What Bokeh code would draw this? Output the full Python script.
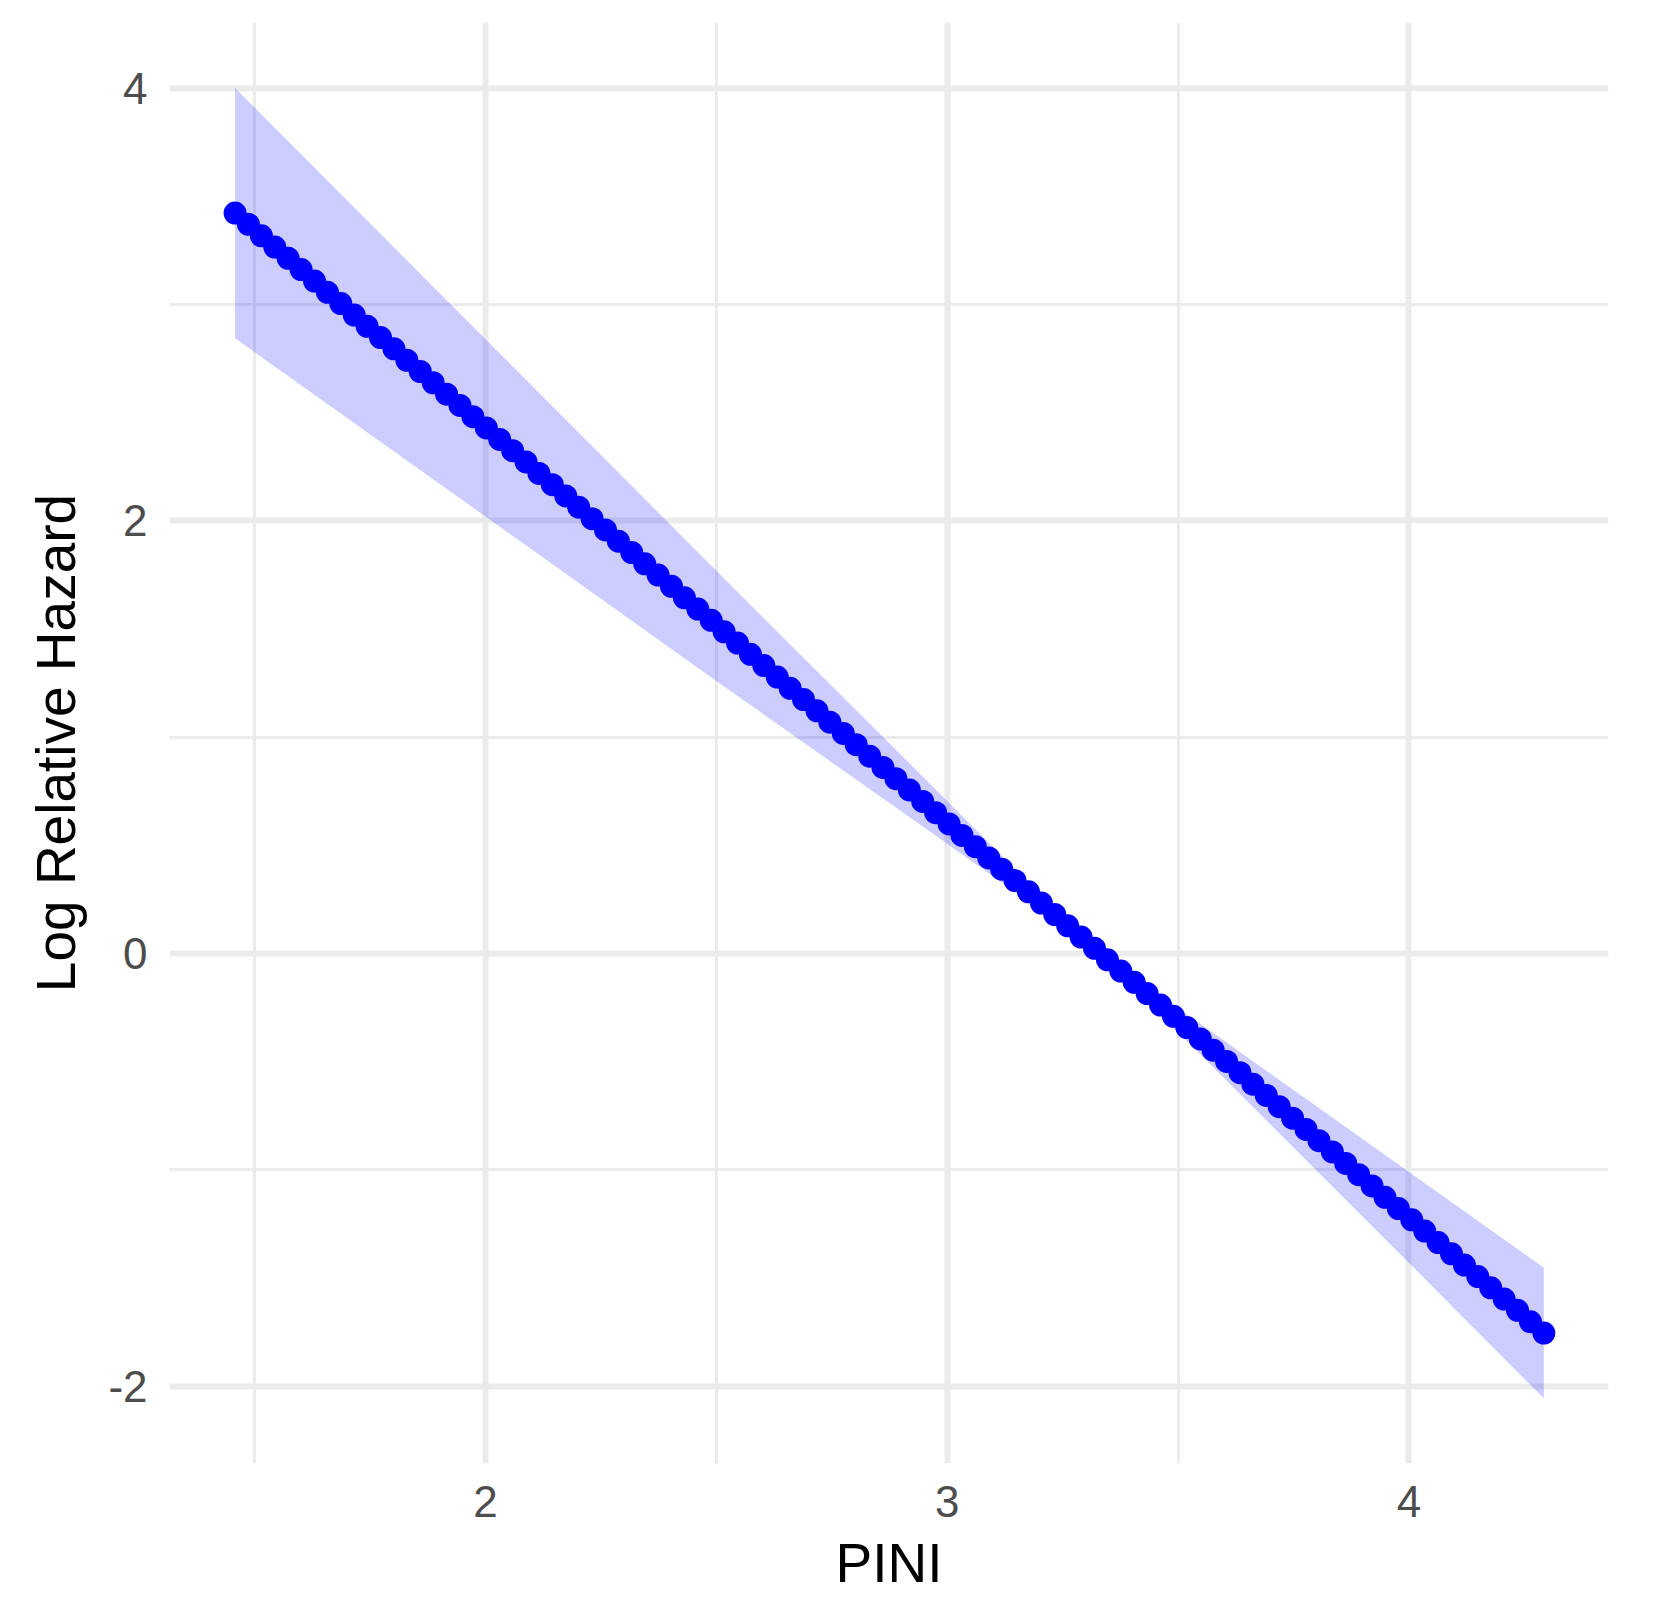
from bokeh.plotting import figure
from bokeh.models import FixedTicker, Range1d, CustomJSTickFormatter
from bokeh.embed import file_html
from bokeh.resources import INLINE

# PINI values of the predicted points
pini = [1.458, 1.487, 1.515, 1.544, 1.573, 1.601, 1.630, 1.658, 1.687, 1.716,
        1.744, 1.773, 1.802, 1.830, 1.859, 1.887, 1.916, 1.945, 1.973, 2.002,
        2.031, 2.059, 2.088, 2.116, 2.145, 2.174, 2.202, 2.231, 2.260, 2.288,
        2.317, 2.345, 2.374, 2.403, 2.431, 2.460, 2.489, 2.517, 2.546, 2.574,
        2.603, 2.632, 2.660, 2.689, 2.718, 2.746, 2.775, 2.803, 2.832, 2.861,
        2.889, 2.918, 2.947, 2.975, 3.004, 3.032, 3.061, 3.090, 3.118, 3.147,
        3.176, 3.204, 3.233, 3.261, 3.290, 3.319, 3.347, 3.376, 3.405, 3.433,
        3.462, 3.490, 3.519, 3.548, 3.576, 3.605, 3.634, 3.662, 3.691, 3.719,
        3.748, 3.777, 3.805, 3.834, 3.863, 3.891, 3.920, 3.948, 3.977, 4.006,
        4.034, 4.063, 4.092, 4.120, 4.149, 4.177, 4.206, 4.235, 4.263, 4.292]

# Log relative hazard at each point
log_rh = [3.422, 3.370, 3.317, 3.265, 3.213, 3.161, 3.108, 3.056, 3.004, 2.951,
          2.899, 2.847, 2.795, 2.742, 2.690, 2.638, 2.585, 2.533, 2.481, 2.429,
          2.376, 2.324, 2.272, 2.219, 2.167, 2.115, 2.063, 2.010, 1.958, 1.906,
          1.853, 1.801, 1.749, 1.697, 1.644, 1.592, 1.540, 1.487, 1.435, 1.383,
          1.331, 1.278, 1.226, 1.174, 1.122, 1.069, 1.017, 0.965, 0.912, 0.860,
          0.808, 0.756, 0.703, 0.651, 0.599, 0.546, 0.494, 0.442, 0.390, 0.337,
          0.285, 0.233, 0.180, 0.128, 0.076, 0.024, -0.029, -0.081, -0.133, -0.185,
          -0.238, -0.290, -0.342, -0.395, -0.447, -0.499, -0.551, -0.604, -0.656, -0.708,
          -0.761, -0.813, -0.865, -0.917, -0.970, -1.022, -1.074, -1.127, -1.179, -1.231,
          -1.283, -1.336, -1.388, -1.440, -1.493, -1.545, -1.597, -1.649, -1.702, -1.754]

# Confidence band read at several PINI values
band_x = [1.458, 2.0, 2.5, 3.0, 3.32, 3.5, 4.0, 4.292]
band_upper = [4.000, 2.84, 1.77, 0.705, 0.021, -0.252, -1.01, -1.452]
band_lower = [2.844, 2.02, 1.26, 0.507, 0.021, -0.364, -1.43, -2.056]

x_ticks = [2, 3, 4]
x_minor = [1.5, 2.5, 3.5]
y_ticks = [-2, 0, 2, 4]
y_minor = [-1, 1, 3]

FONT = "Liberation Sans"

p = figure(
    output_backend="svg", toolbar_location=None,
    frame_width=1439, frame_height=1441,
    min_border_left=169, min_border_top=22, min_border_right=30, min_border_bottom=135,
    x_range=Range1d(1.316, 4.432), y_range=Range1d(-2.357, 4.303),
    background_fill_color="white", border_fill_color="white",
)
p.outline_line_color = None

p.varea(x=band_x, y1=band_lower, y2=band_upper, fill_color="#0000FF", fill_alpha=0.2)
p.scatter(x=pini, y=log_rh, size=23, fill_color="#0000FF", line_color=None)

p.xaxis.ticker = FixedTicker(ticks=x_ticks, minor_ticks=x_minor)
p.yaxis.ticker = FixedTicker(ticks=y_ticks, minor_ticks=y_minor)

fmt = CustomJSTickFormatter(code="return String(tick);")
p.xaxis.formatter = fmt
p.yaxis.formatter = CustomJSTickFormatter(code="return String(tick);")

for g in p.grid:
    g.grid_line_color = "#EBEBEB"
    g.grid_line_width = 6
    g.minor_grid_line_color = "#EBEBEB"
    g.minor_grid_line_width = 3
    g.level = "image"

for ax in (p.xaxis[0], p.yaxis[0]):
    ax.axis_line_color = None
    ax.major_tick_line_color = None
    ax.minor_tick_line_color = None
    ax.major_tick_in = 0
    ax.major_tick_out = 0
    ax.minor_tick_in = 0
    ax.minor_tick_out = 0
    ax.major_label_text_font = FONT
    ax.major_label_text_font_size = "44px"
    ax.major_label_text_color = "#4D4D4D"
    ax.axis_label_text_font = FONT
    ax.axis_label_text_font_size = "55px"
    ax.axis_label_text_color = "black"
    ax.axis_label_text_font_style = "normal"

p.xaxis.axis_label = "PINI"
p.yaxis.axis_label = "Log Relative Hazard"
p.xaxis.major_label_standoff = 22
p.yaxis.major_label_standoff = 22
p.xaxis.axis_label_standoff = 12
p.yaxis.axis_label_standoff = 18

open("out.html", "w").write(file_html(p, INLINE))
